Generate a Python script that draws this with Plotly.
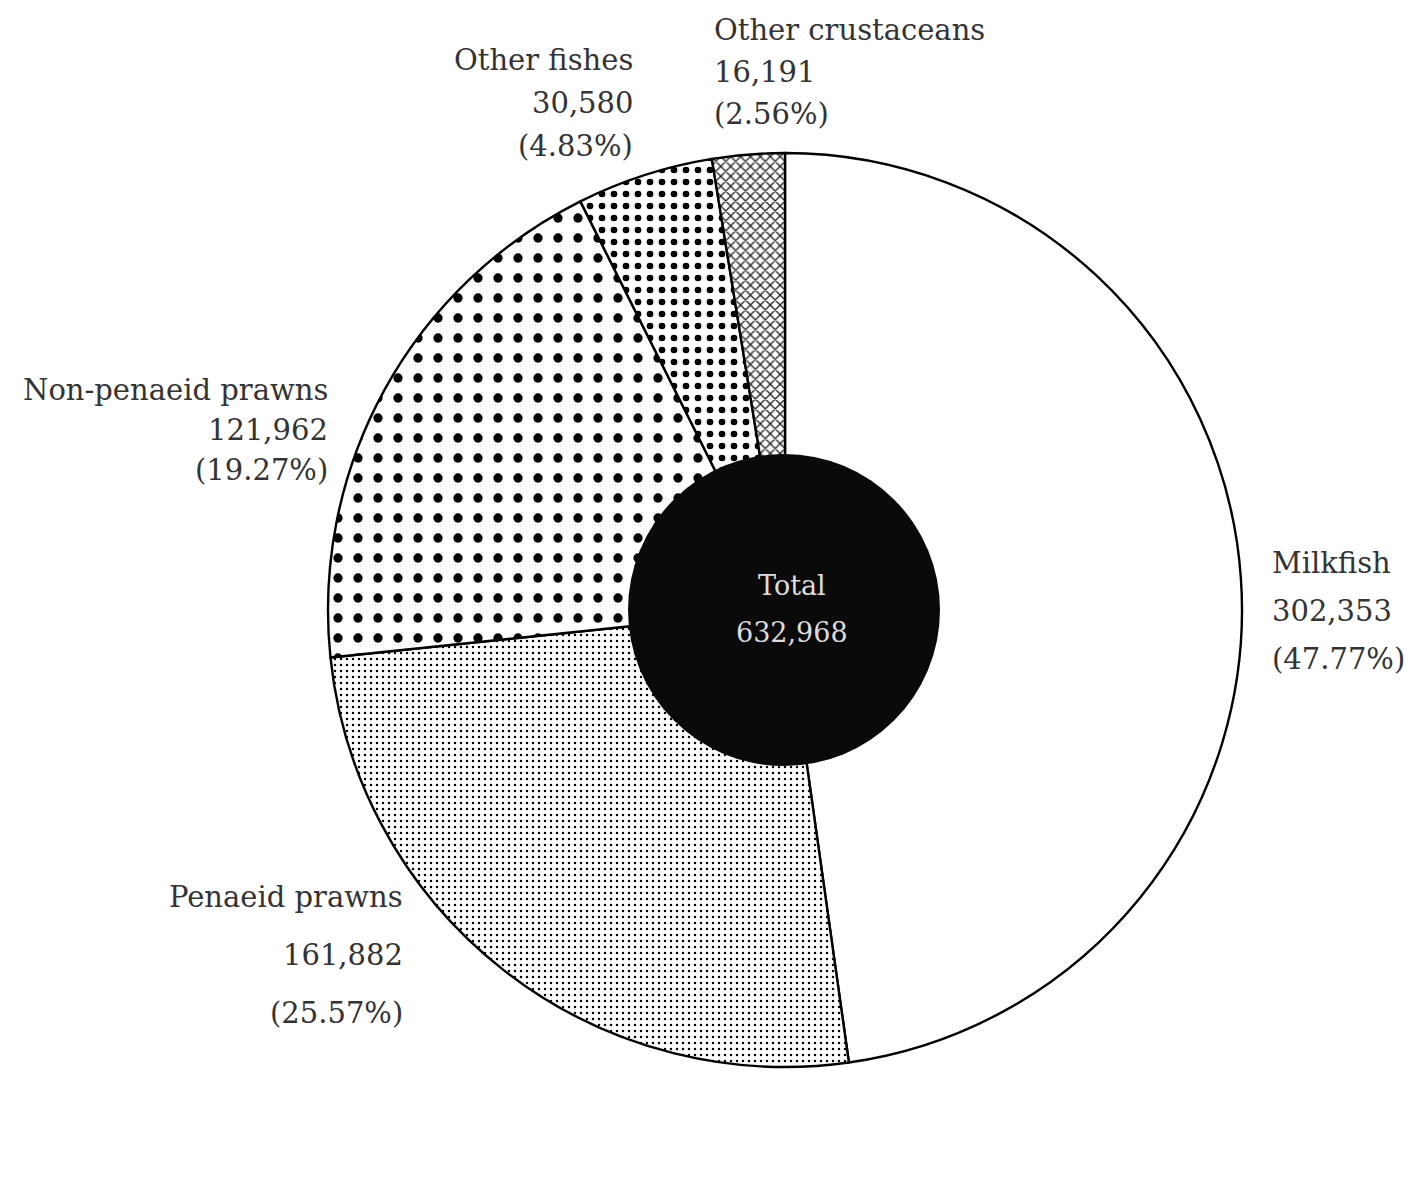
import plotly.graph_objects as go

# ---- data ----
categories = ["Milkfish", "Penaeid prawns", "Non-penaeid prawns", "Other fishes", "Other crustaceans"]
values = [302353, 161882, 121962, 30580, 16191]
percent_labels = ["47.77%", "25.57%", "19.27%", "4.83%", "2.56%"]
total_value = 632968
total_label = "Total"

# ---- styles ----
W, H = 1422, 1194
OFF = 8  # default page body margin
FONT = "DejaVu Serif"
TXT = "#333333"
patterns = [
    dict(shape="", fgcolor="black", bgcolor="white"),
    dict(shape=".", size=6, solidity=0.14, fgcolor="black", bgcolor="white"),
    dict(shape=".", size=20, solidity=0.17, fgcolor="black", bgcolor="white"),
    dict(shape=".", size=12, solidity=0.24, fgcolor="black", bgcolor="white"),
    dict(shape="x", size=7, solidity=0.35, fgcolor="#222222", bgcolor="white"),
]

def px_x(x):
    return (x - OFF) / W

def px_y(y):
    return 1 - (y - OFF) / H

def px_dom(cx, cy, r):
    return dict(x=[px_x(cx - r), px_x(cx + r)], y=[px_y(cy + r), px_y(cy - r)])

fig = go.Figure()
fig.add_trace(go.Pie(
    labels=categories, values=values, sort=False, direction="clockwise", rotation=0,
    textinfo="none", hoverinfo="label+value+percent",
    marker=dict(colors=["white"] * len(values), line=dict(color="black", width=2.4),
                pattern=dict(shape=[p["shape"] for p in patterns],
                             size=[p.get("size", 8) for p in patterns],
                             solidity=[p.get("solidity", 0.3) for p in patterns],
                             fgcolor=[p["fgcolor"] for p in patterns],
                             bgcolor=[p["bgcolor"] for p in patterns],
                             fillmode="replace")),
    domain=px_dom(785, 610, 457), showlegend=False,
))
fig.add_trace(go.Pie(
    labels=[total_label], values=[total_value], sort=False, textinfo="none",
    marker=dict(colors=["#0a0a0a"], line=dict(color="#0a0a0a", width=0)),
    domain=px_dom(784, 610, 156), showlegend=False, hoverinfo="label+value",
))

# label layout: (x px, first-line y px, line spacing px, anchor)
label_layout = [
    (1270, 563, 48, "left"),
    (405, 897, 58, "right"),
    (330, 390, 40, "right"),
    (635, 60, 43, "right"),
    (712, 30, 42, "left"),
]
annotations = []
for name, val, pct, (lx, ly, sp, anc) in zip(categories, values, percent_labels, label_layout):
    lines = [name, f"{val:,}", f"({pct})"]
    for i, t in enumerate(lines):
        annotations.append(dict(x=px_x(lx), y=px_y(ly + i * sp), xref="paper", yref="paper",
                                text=t, showarrow=False, xanchor=anc, yanchor="middle",
                                font=dict(family=FONT, size=29, color=TXT)))
for i, t in enumerate([total_label, f"{total_value:,}"]):
    annotations.append(dict(x=px_x(792), y=px_y(585 + i * 47), xref="paper", yref="paper",
                            text=t, showarrow=False, xanchor="center", yanchor="middle",
                            font=dict(family=FONT, size=27, color="#dddddd")))

fig.update_layout(width=W, height=H, margin=dict(l=0, r=0, t=0, b=0),
                  paper_bgcolor="white", plot_bgcolor="white",
                  annotations=annotations)
fig.write_html("out.html")
